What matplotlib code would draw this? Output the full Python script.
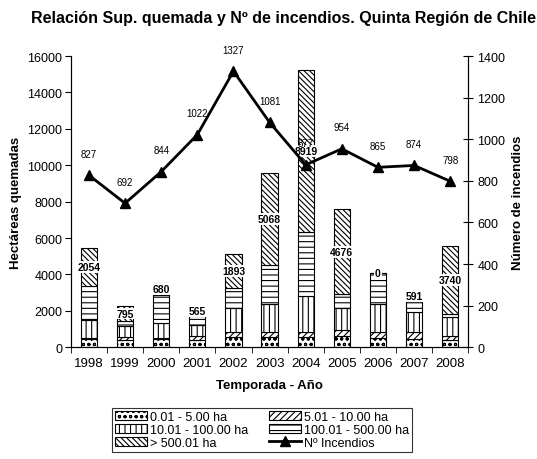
import matplotlib.pyplot as plt
import numpy as np

plt.rcParams["font.family"] = ["Liberation Sans", "DejaVu Sans"]
plt.rcParams["hatch.linewidth"] = 0.8

years = ["1998", "1999", "2000", "2001", "2002", "2003", "2004", "2005", "2006", "2007", "2008"]
ha_0_5 = [450, 420, 450, 420, 550, 560, 560, 640, 500, 460, 420]
ha_5_10 = [80, 130, 60, 200, 310, 300, 300, 290, 320, 360, 220]
ha_10_100 = [940, 600, 800, 600, 1280, 1520, 1940, 1210, 1560, 1140, 1010]
ha_100_500 = [1920, 305, 1550, 470, 1100, 2130, 3520, 760, 1720, 560, 160]
ha_500 = [2054, 795, 680, 565, 1893, 5068, 8919, 4676, 0, 591, 3740]
incendios = [827, 692, 844, 1022, 1327, 1081, 877, 954, 865, 874, 798]

segments = [
    (ha_0_5, "ooo", "0.01 - 5.00 ha"),
    (ha_5_10, "/////", "5.01 - 10.00 ha"),
    (ha_10_100, "|||", "10.01 - 100.00 ha"),
    (ha_100_500, "---", "100.01 - 500.00 ha"),
    (ha_500, "\\" * 6, "> 500.01 ha"),
]

fig = plt.figure(figsize=(5.37, 4.60), dpi=100)
ax = fig.add_axes([0.132, 0.243, 0.740, 0.633])
ax2 = ax.twinx()

x = np.arange(len(years))
bottom = np.zeros(len(years))
handles = {}
for vals, hatch, label in segments:
    vals = np.array(vals, dtype=float)
    bars = ax.bar(x, vals, 0.45, bottom=bottom, color="white", edgecolor="black",
                  hatch=hatch, linewidth=0.8, label=label)
    handles[label] = bars
    bottom += vals

ax.bar_label(handles["> 500.01 ha"], labels=[str(v) for v in ha_500], label_type="center",
             fontsize=7.5, fontweight="bold",
             bbox=dict(facecolor="white", edgecolor="none", pad=0.6))

line, = ax2.plot(x, incendios, color="black", lw=2, marker="^", markersize=7.5, label="Nº Incendios")
for xi, v in zip(x, incendios):
    ax2.annotate(str(v), (xi, v), xytext=(0, 12), textcoords="offset points",
                 ha="center", va="bottom", fontsize=7)

ax.set_xlim(-0.5, len(years) - 0.5)
ax.set_ylim(0, 16000)
ax.set_yticks(np.arange(0, 16001, 2000))
ax2.set_ylim(0, 1400)
ax2.set_yticks(np.arange(0, 1401, 200))

ax.set_xticks(x)
ax.set_xticklabels(years)
ax.set_xticks(np.arange(-0.5, len(years), 1.0), minor=True)
ax.tick_params(axis="x", which="major", length=0, pad=7, labelsize=9.5)
ax.tick_params(axis="x", which="minor", length=4, direction="out")
ax.tick_params(axis="y", labelsize=9, direction="out", length=4, pad=2)
ax2.tick_params(axis="y", labelsize=9, direction="inout", length=7, pad=3)

for a in (ax, ax2):
    a.spines["top"].set_visible(False)

ax.set_xlabel("Temporada - Año", fontsize=9.5, fontweight="bold", labelpad=7)
ax.set_ylabel("Hectáreas quemadas", fontsize=9.5, fontweight="bold", labelpad=4)
ax2.set_ylabel("Número de incendios", fontsize=9.5, fontweight="bold", labelpad=5)

fig.text(0.058, 0.96, "Relación Sup. quemada y Nº de incendios. Quinta Región de Chile",
         ha="left", va="center", fontsize=11.5, fontweight="bold")

order = ["0.01 - 5.00 ha", "10.01 - 100.00 ha", "> 500.01 ha",
         "5.01 - 10.00 ha", "100.01 - 500.00 ha"]
hl = [handles[k] for k in order] + [line]
ll = order + ["Nº Incendios"]
leg = fig.legend(hl, ll, ncol=2, loc="lower center", bbox_to_anchor=(0.488, 0.002),
                 fontsize=9, frameon=True, fancybox=False, edgecolor="black",
                 handlelength=2.6, handleheight=0.75, handletextpad=0.25,
                 columnspacing=1.6, labelspacing=0.08, borderpad=0.25)
leg.get_frame().set_linewidth(0.8)

fig.savefig("out.png", dpi=100)
